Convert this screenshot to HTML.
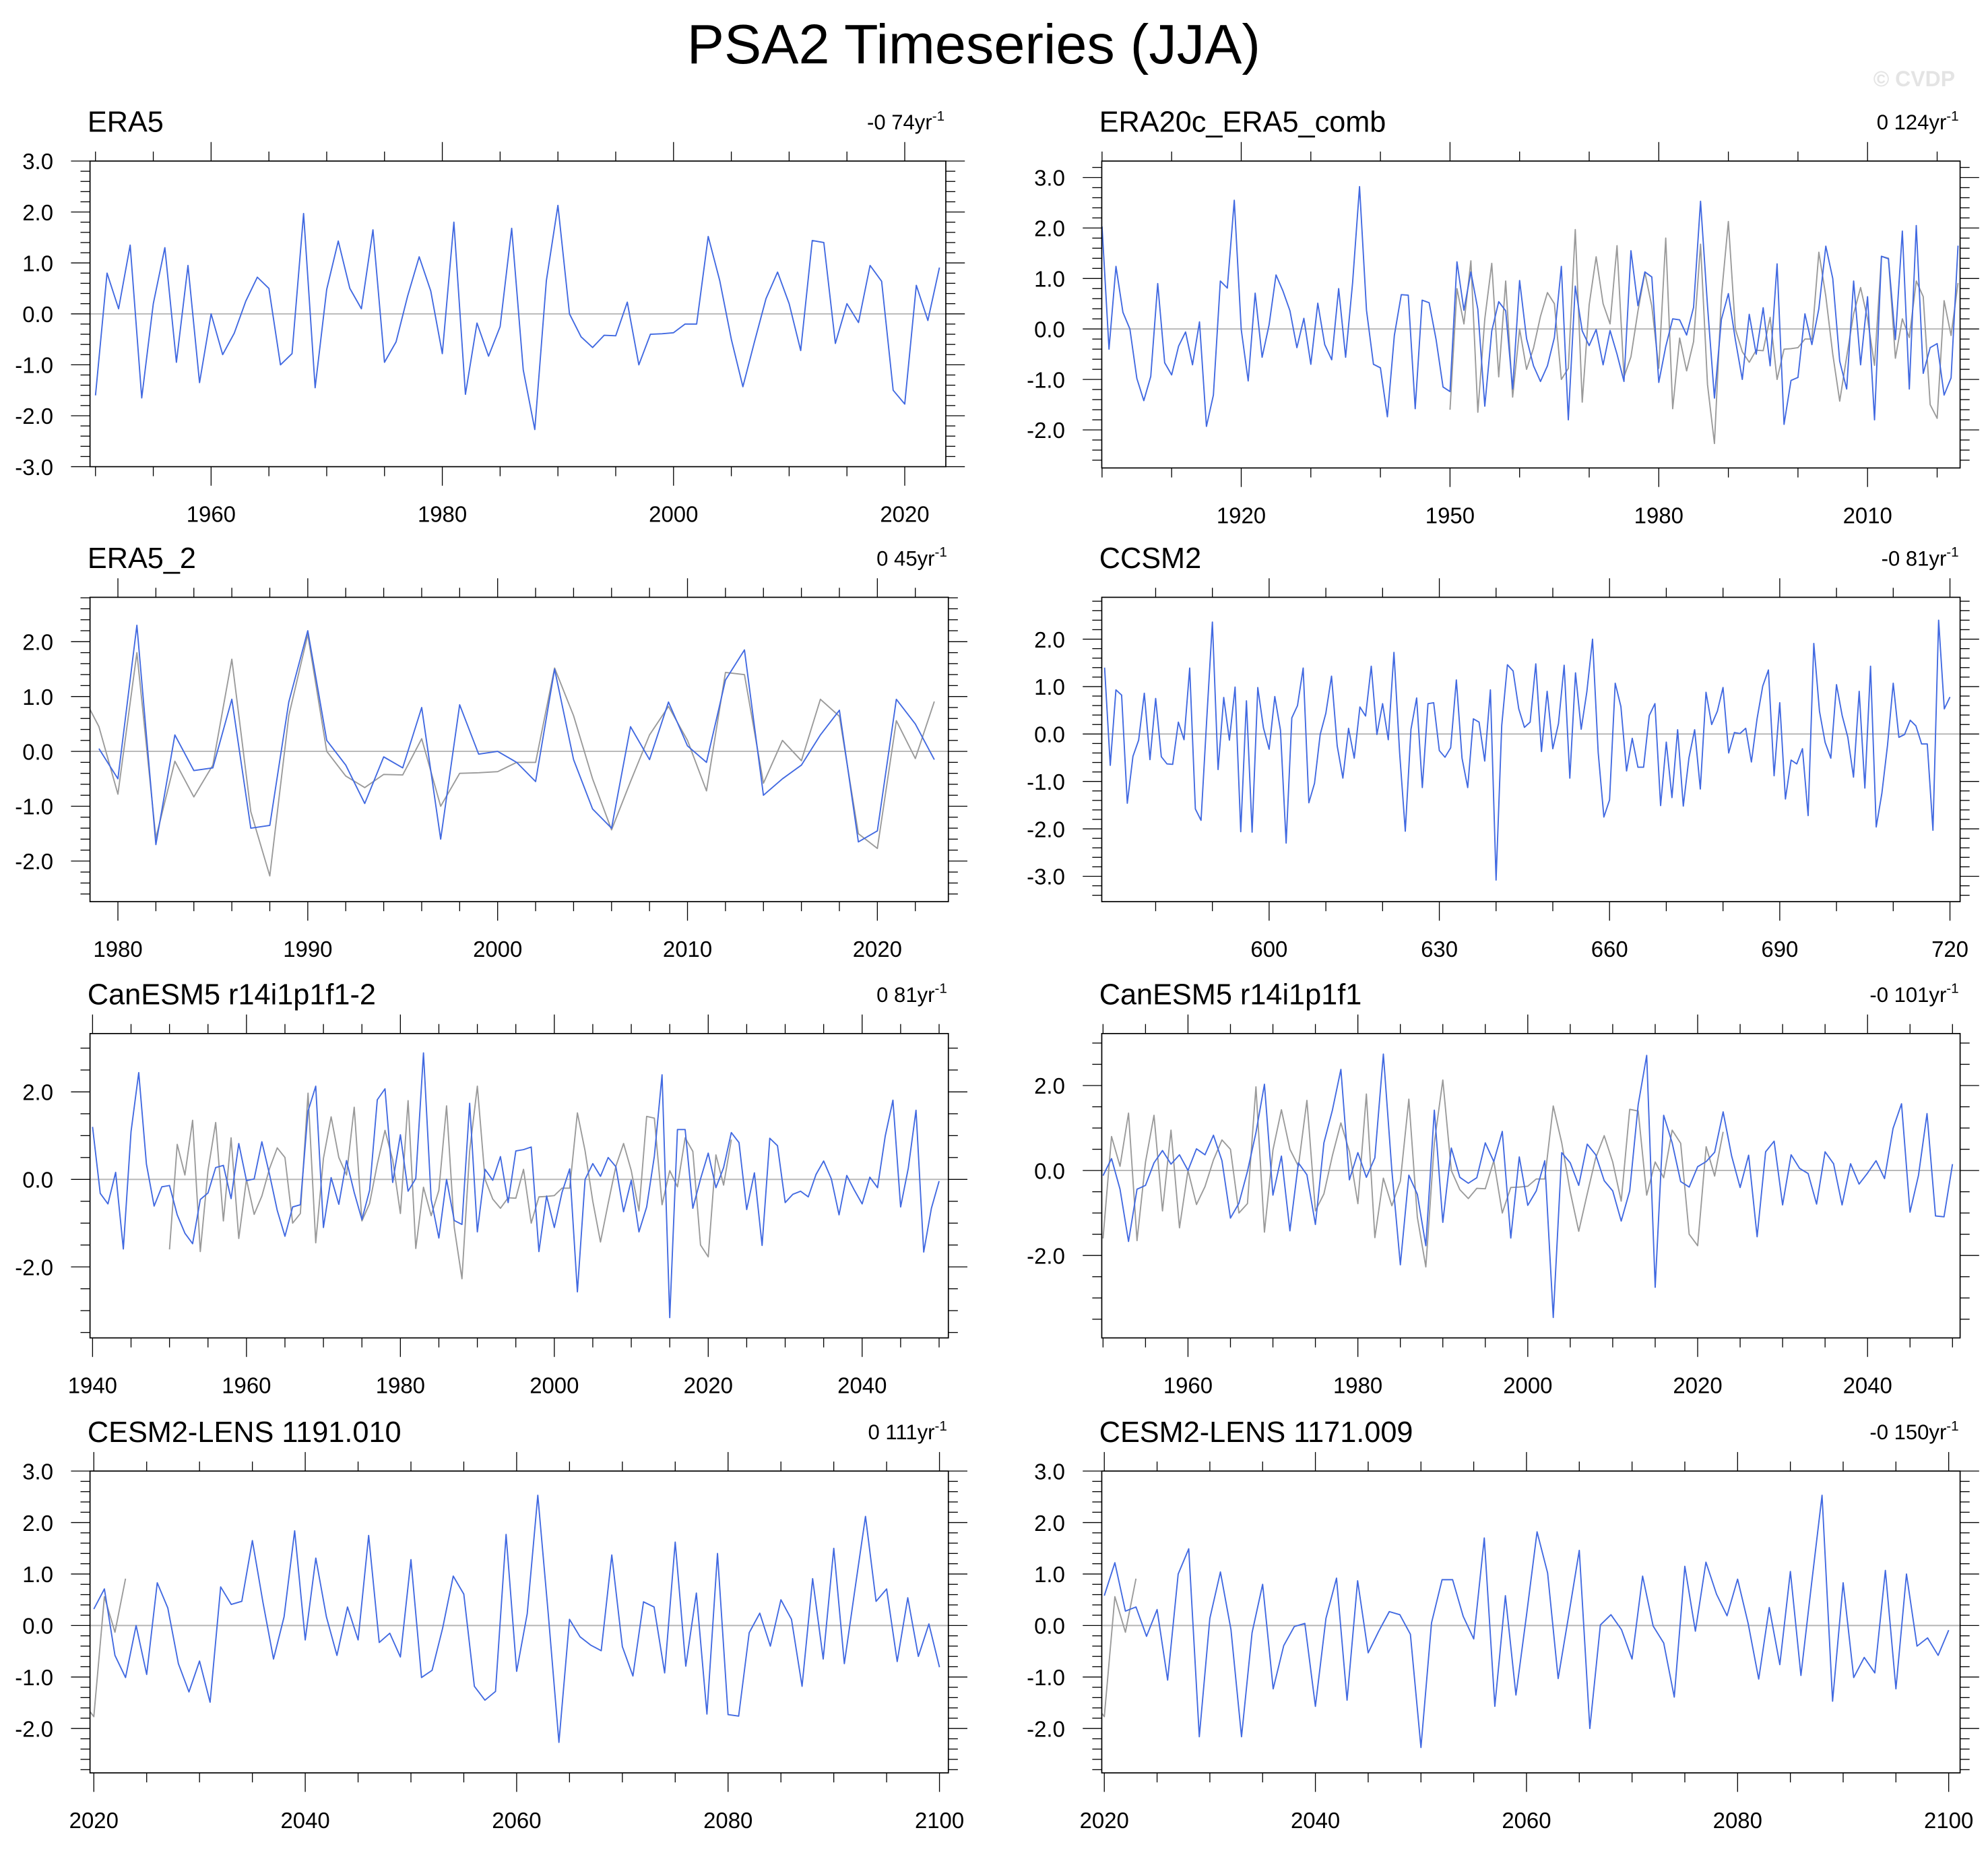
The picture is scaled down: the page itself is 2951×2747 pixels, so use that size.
<!DOCTYPE html>
<html><head><meta charset="utf-8"><style>
html,body{margin:0;padding:0;background:#fff}
svg{display:block}
text{font-family:"Liberation Sans",sans-serif;fill:#000}
</style></head><body>
<svg id="chart" width="2951" height="2747" viewBox="0 0 1568 1459.6" xmlns="http://www.w3.org/2000/svg">
<rect x="0" y="0" width="1568" height="1460" fill="#fff"/>
<text x="768" y="50" font-size="44" text-anchor="middle">PSA2 Timeseries (JJA)</text>
<text x="1542" y="68" font-size="17" font-weight="bold" text-anchor="end" style="fill:#e4e4e4">© CVDP</text>
</svg>
<script>
// ---- data ----
const era5Start = 1950;
const era5Values = [-1.6,0.8,0.1,1.35,-1.65,0.2,1.3,-0.95,0.95,-1.35,0.0,-0.8,-0.38,0.25,0.72,0.5,-1.0,-0.78,1.97,-1.45,0.48,1.43,0.5,0.1,1.65,-0.95,-0.55,0.35,1.12,0.45,-0.78,1.8,-1.58,-0.18,-0.83,-0.25,1.68,-1.1,-2.27,0.65,2.13,0.0,-0.45,-0.66,-0.42,-0.43,0.23,-1.0,-0.4,-0.39,-0.37,-0.2,-0.2,1.52,0.65,-0.5,-1.43,-0.55,0.3,0.82,0.2,-0.72,1.44,1.4,-0.58,0.2,-0.17,0.95,0.64,-1.5,-1.77,0.56,-0.13,0.91];

const era20cStart = 1900;
const era20cValues = [2.03,-0.40,1.24,0.33,0.0,-0.98,-1.42,-0.94,0.90,-0.67,-0.91,-0.34,-0.06,-0.71,0.14,-1.93,-1.31,0.95,0.81,2.55,-0.01,-1.03,0.71,-0.56,0.08,1.07,0.75,0.36,-0.37,0.21,-0.70,0.51,-0.31,-0.61,0.80,-0.56,0.91,2.82,0.37,-0.70,-0.77,-1.74,-0.13,0.68,0.67,-1.58,0.57,0.52,-0.21,-1.15,-1.24,1.33,0.37,1.13,0.39,-1.53,-0.04,0.54,0.36,-1.19,0.96,-0.19,-0.73,-1.04,-0.73,-0.17,1.24,-1.80,0.85,-0.04,-0.33,-0.01,-0.71,-0.03,-0.50,-1.04,1.55,0.46,1.13,1.03,-1.06,-0.35,0.20,0.18,-0.12,0.43,2.53,0.46,-1.37,0.19,0.70,-0.21,-1.00,0.29,-0.50,0.42,-0.73,1.29,-1.89,-1.02,-0.96,0.30,-0.31,0.40,1.64,1.00,-0.64,-1.19,0.95,-0.71,0.64,-1.80,1.44,1.39,-0.21,1.94,-1.19,2.05,-0.88,-0.37,-0.29,-1.31,-0.97,1.65];

const era5b2Start = 1979;
const era5b2Values = [0.05,-0.5,2.3,-1.7,0.3,-0.35,-0.3,0.95,-1.4,-1.35,0.9,2.2,0.2,-0.25,-0.95,-0.1,-0.3,0.8,-1.6,0.85,-0.05,0.0,-0.2,-0.55,1.5,-0.15,-1.05,-1.4,0.45,-0.15,0.9,0.1,-0.2,1.3,1.85,-0.8,-0.5,-0.25,0.3,0.75,-1.65,-1.45,0.95,0.5,-0.15];

const ccsmStart = 571;
const ccsmValues = [1.40,-0.66,0.93,0.82,-1.46,-0.47,-0.13,0.86,-0.54,0.75,-0.48,-0.63,-0.64,0.25,-0.12,1.39,-1.58,-1.82,0.3,2.36,-0.75,0.77,-0.13,0.99,-2.06,0.70,-2.07,0.98,0.13,-0.32,0.79,0.08,-2.30,0.34,0.60,1.39,-1.45,-1.04,-0.01,0.44,1.22,-0.25,-0.93,0.12,-0.51,0.57,0.38,1.43,-0.01,0.64,-0.12,1.72,-0.39,-2.05,0.10,0.76,-1.13,0.64,0.66,-0.35,-0.49,-0.29,1.14,-0.51,-1.13,0.32,0.25,-0.57,0.93,-3.08,0.18,1.46,1.33,0.53,0.14,0.25,1.48,-0.37,0.90,-0.31,0.22,1.45,-0.93,1.29,0.10,0.89,2.00,-0.39,-1.75,-1.39,1.07,0.58,-0.78,-0.09,-0.70,-0.70,0.39,0.64,-1.51,-0.17,-1.34,0.09,-1.52,-0.50,0.09,-1.16,0.88,0.20,0.48,0.98,-0.40,0.03,0.01,0.12,-0.59,0.32,1.01,1.35,-0.88,0.66,-1.37,-0.55,-0.63,-0.31,-1.72,1.91,0.48,-0.18,-0.51,1.04,0.39,-0.07,-0.91,0.90,-1.14,1.43,-1.96,-1.25,-0.23,1.07,-0.07,-0.01,0.29,0.17,-0.21,-0.21,-2.03,2.40,0.53,0.78];

const can2Start = 1940;
const can2Values = [1.20,-0.32,-0.56,0.16,-1.59,1.09,2.44,0.35,-0.61,-0.17,-0.14,-0.81,-1.23,-1.47,-0.46,-0.31,0.27,0.32,-0.44,0.82,-0.03,0.01,0.86,0.11,-0.71,-1.30,-0.63,-0.58,1.56,2.13,-1.10,0.04,-0.57,0.43,-0.30,-0.92,-0.25,1.82,2.07,-0.07,1.02,-0.27,0.02,2.89,-0.46,-1.34,0.0,-0.94,-1.03,1.74,-1.20,0.23,-0.02,0.52,-0.53,0.65,0.68,0.74,-1.65,-0.38,-1.10,-0.30,0.24,-2.57,0.0,0.36,0.07,0.50,0.29,-0.74,-0.02,-1.20,-0.63,0.53,2.39,-3.16,1.14,1.14,-0.66,0.01,0.60,-0.19,0.27,1.07,0.84,-0.69,0.15,-1.51,0.94,0.77,-0.53,-0.34,-0.27,-0.40,0.11,0.42,0.01,-0.81,0.09,-0.25,-0.56,0.05,-0.19,0.99,1.81,-0.63,0.26,1.58,-1.66,-0.66,-0.04];

const can1Start = 1950;
const can1Values = [-0.12,0.28,-0.44,-1.67,-0.44,-0.35,0.18,0.47,0.15,0.37,0.0,0.51,0.37,0.83,0.23,-1.12,-0.77,-0.02,0.89,2.03,-0.58,0.34,-1.42,0.18,-0.10,-1.27,0.65,1.42,2.38,-0.22,0.42,-0.16,0.30,2.74,0.0,-2.22,-0.11,-0.56,-1.77,1.42,-1.22,0.53,-0.16,-0.30,-0.17,0.65,0.21,0.92,-1.59,0.32,-0.82,-0.48,0.23,-3.46,0.42,0.18,-0.35,0.62,0.37,-0.24,-0.48,-1.19,-0.48,1.55,2.71,-2.75,1.30,0.65,-0.26,-0.39,0.09,0.21,0.43,1.38,0.34,-0.40,0.36,-1.56,0.44,0.69,-0.81,0.37,0.05,-0.07,-0.79,0.44,0.16,-0.81,0.16,-0.32,-0.06,0.23,-0.19,0.99,1.57,-0.98,-0.11,1.34,-1.07,-1.09,0.15];

const lens1Start = 2020;
const lens1Values = [0.32,0.71,-0.58,-1.01,0.0,-0.95,0.83,0.34,-0.74,-1.29,-0.69,-1.49,0.75,0.41,0.47,1.65,0.45,-0.65,0.17,1.84,-0.28,1.31,0.17,-0.58,0.36,-0.28,1.75,-0.33,-0.15,-0.61,1.28,-1.01,-0.87,-0.05,0.96,0.61,-1.18,-1.45,-1.28,1.77,-0.89,0.23,2.53,0.2,-2.27,0.12,-0.22,-0.38,-0.49,1.37,-0.41,-0.98,0.46,0.36,-0.92,1.62,-0.79,0.63,-1.72,1.40,-1.73,-1.76,-0.14,0.24,-0.40,0.50,0.12,-1.18,0.91,-0.65,1.50,-0.74,0.7,2.12,0.47,0.71,-0.70,0.54,-0.60,0.03,-0.81];

const lens2Start = 2020;
const lens2Values = [0.58,1.22,0.28,0.36,-0.21,0.31,-1.06,1.0,1.49,-2.16,0.14,1.04,-0.08,-2.16,-0.14,0.8,-1.23,-0.39,-0.02,0.04,-1.57,0.14,0.92,-1.45,0.87,-0.53,-0.11,0.27,0.21,-0.17,-2.37,0.05,0.89,0.89,0.18,-0.26,1.7,-1.57,0.58,-1.35,0.2,1.82,1.02,-1.03,0.2,1.46,-2.0,0.01,0.21,-0.08,-0.65,0.96,-0.01,-0.34,-1.39,1.15,-0.11,1.23,0.61,0.19,0.9,0.04,-1.04,0.35,-0.76,1.05,-0.97,0.8,2.53,-1.47,0.83,-1.01,-0.62,-0.92,1.07,-1.23,1.0,-0.4,-0.24,-0.58,-0.09];

const panelTitles = ["ERA5","ERA20c_ERA5_comb","ERA5_2","CCSM2","CanESM5 r14i1p1f1-2","CanESM5 r14i1p1f1","CESM2-LENS 1191.010","CESM2-LENS 1171.009"];
const trendLabels = ["-0 74yr","0 124yr","0 45yr","-0 81yr","0 81yr","-0 101yr","0 111yr","-0 150yr"];
const yTickLabels1 = [3,2,1,0,-1,-2,-3];
const yTickLabels2 = [3,2,1,0,-1,-2];
const yTickLabels3 = [2,1,0,-1,-2];
const yTickLabels4 = [2,1,0,-1,-2,-3];
const yTickLabels5 = [2,0,-2];
const xTickLabels1 = [1960,1980,2000,2020];
const xTickLabels2 = [1920,1950,1980,2010];
const xTickLabels3 = [1980,1990,2000,2010,2020];
const xTickLabels4 = [600,630,660,690,720];
const xTickLabels5 = [1940,1960,1980,2000,2020,2040];
const xTickLabels6 = [1960,1980,2000,2020,2040];
const xTickLabels7 = [2020,2040,2060,2080,2100];

// ---- layout (display units) ----
const NS = "http://www.w3.org/2000/svg";
const svg = document.getElementById('chart');
function mk(tag, attrs, parent){
  const e = document.createElementNS(NS, tag);
  for (const k in attrs) e.setAttribute(k, attrs[k]);
  (parent||svg).appendChild(e);
  return e;
}
const panels = [
  {L:71,R:746,T:127,B:368, xa:[1960,166.5,2020,713.6], ya:[3,127,-3,368], minorX:5, majorX:20, yLab:yTickLabels1, xLab:xTickLabels1, minorY:0.2, majorY:1, blue:[era5Start,era5Values], gray:null},
  {L:869,R:1546,T:127,B:369, xa:[1920,979,2010,1473], ya:[3,140,-2,339], minorX:10, majorX:30, yLab:yTickLabels2, xLab:xTickLabels2, minorY:0.2, majorY:1, blue:[era20cStart,era20cValues], gray:[era5Start,era5Values]},
  {L:71,R:748,T:471,B:711, xa:[1980,93,2020,692], ya:[2,506,-2,679], minorX:2, majorX:10, yLab:yTickLabels3, xLab:xTickLabels3, minorY:0.2, majorY:1, blue:[era5b2Start,era5b2Values], gray:[era5Start,era5Values]},
  {L:869,R:1546,T:471,B:711, xa:[600,1001,720,1538], ya:[2,504,-3,691], minorX:10, majorX:30, yLab:yTickLabels4, xLab:xTickLabels4, minorY:0.2, majorY:1, blue:[ccsmStart,ccsmValues], gray:null},
  {L:71,R:748,T:815,B:1055, xa:[1940,73,2040,680], ya:[2,861,-2,999], minorX:5, majorX:20, yLab:yTickLabels5, xLab:xTickLabels5, minorY:0.5, majorY:2, blue:[can2Start,can2Values], gray:[era5Start,era5Values]},
  {L:869,R:1546,T:815,B:1055, xa:[1960,937,2040,1473], ya:[2,856,-2,990], minorX:5, majorX:20, yLab:yTickLabels5, xLab:xTickLabels6, minorY:0.5, majorY:2, blue:[can1Start,can1Values], gray:[era5Start,era5Values]},
  {L:71,R:748,T:1160,B:1398, xa:[2020,74,2100,741], ya:[3,1160,-2,1363], minorX:5, majorX:20, yLab:yTickLabels2, xLab:xTickLabels7, minorY:0.2, majorY:1, blue:[lens1Start,lens1Values], gray:[era5Start,era5Values]},
  {L:869,R:1546,T:1160,B:1398, xa:[2020,871,2100,1537], ya:[3,1160,-2,1363], minorX:5, majorX:20, yLab:yTickLabels2, xLab:xTickLabels7, minorY:0.2, majorY:1, blue:[lens2Start,lens2Values], gray:[era5Start,era5Values]}
];
const slug = ["era5","era20c-era5-comb","era5-2","ccsm2","canesm5-r14i1p1f1-2","canesm5-r14i1p1f1","cesm2-lens-1191-010","cesm2-lens-1171-009"];

panels.forEach((p, i) => {
  const xs = v => p.xa[1] + (v - p.xa[0]) * (p.xa[3]-p.xa[1]) / (p.xa[2]-p.xa[0]);
  const ys = v => p.ya[1] + (v - p.ya[0]) * (p.ya[3]-p.ya[1]) / (p.ya[2]-p.ya[0]);
  const xinv = px => p.xa[0] + (px - p.xa[1]) * (p.xa[2]-p.xa[0]) / (p.xa[3]-p.xa[1]);
  const yinv = py => p.ya[0] + (py - p.ya[1]) * (p.ya[2]-p.ya[0]) / (p.ya[3]-p.ya[1]);
  const g = mk('g', {});
  
  

  const cp = mk('clipPath', {id:'clip'+i}, g);
  mk('rect', {x:p.L, y:p.T, width:p.R-p.L, height:p.B-p.T}, cp);

  const z = mk('line', {x1:p.L, x2:p.R, y1:ys(0), y2:ys(0), stroke:'#b5b5b5', 'stroke-width':1}, g);
  
  

  function series(arr, color, name){
    const start = arr[0], vals = arr[1];
    let d = '';
    vals.forEach((v, k) => { d += (k ? 'L' : 'M') + xs(start + k).toFixed(2) + ' ' + ys(v).toFixed(2); });
    const path = mk('path', {d:d, fill:'none', stroke:color, 'stroke-width':1, 'stroke-linejoin':'round', 'clip-path':'url(#clip'+i+')'}, g);
    
    
  }
  if (p.gray) series(p.gray, '#9a9a9a', 'era5-reference-line');
  series(p.blue, '#4169e1', 'series-line-' + slug[i]);

  const fr = mk('rect', {x:p.L, y:p.T, width:p.R-p.L, height:p.B-p.T, fill:'none', stroke:'#000', 'stroke-width':0.9}, g);
  
  

  const tg = mk('g', {stroke:'#000', 'stroke-width':0.7}, g);
  
  
  const x0 = Math.ceil(xinv(p.L) / p.minorX - 1e-6) * p.minorX;
  for (let v = x0; xs(v) <= p.R + 0.5; v += p.minorX) {
    const major = Math.abs(v / p.majorX - Math.round(v / p.majorX)) < 1e-6;
    const len = major ? 15 : 7.5;
    const X = xs(v);
    mk('line', {x1:X, x2:X, y1:p.B, y2:p.B+len}, tg);
    mk('line', {x1:X, x2:X, y1:p.T, y2:p.T-len}, tg);
  }
  const yTop = yinv(p.T), yBot = yinv(p.B);
  const y0 = Math.ceil(yBot / p.minorY - 1e-6) * p.minorY;
  for (let v = y0; v <= yTop + 1e-6; v += p.minorY) {
    const major = Math.abs(v / p.majorY - Math.round(v / p.majorY)) < 1e-6;
    const len = major ? 15 : 7.5;
    const Y = ys(v);
    mk('line', {x1:p.L, x2:p.L-len, y1:Y, y2:Y}, tg);
    mk('line', {x1:p.R, x2:p.R+len, y1:Y, y2:Y}, tg);
  }

  p.yLab.forEach(v => {
    const t = mk('text', {x:p.L-29, y:ys(v)+6.5, 'font-size':17.5, 'text-anchor':'end'}, g);
    t.textContent = v.toFixed(1);
    
    
  });
  p.xLab.forEach(v => {
    const t = mk('text', {x:xs(v), y:p.B+43.5, 'font-size':17.5, 'text-anchor':'middle'}, g);
    t.textContent = String(v);
    
    
  });
  const tt = mk('text', {x:p.L-2, y:p.T-23, 'font-size':23}, g);
  tt.textContent = panelTitles[i];
  
  
  const tr = mk('text', {x:p.R-1, y:p.T-25, 'font-size':16.5, 'text-anchor':'end'}, g);
  tr.textContent = trendLabels[i];
  
  
  const sup = mk('tspan', {dy:-7, 'font-size':11}, tr);
  sup.textContent = '-1';
});
</script>
</body></html>
